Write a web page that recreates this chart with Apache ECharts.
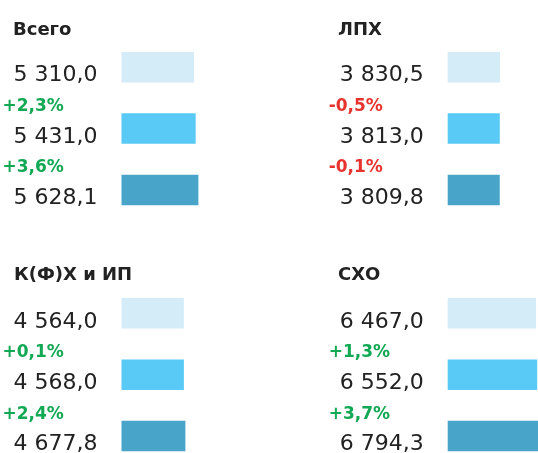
<!DOCTYPE html>
<html>
<head>
<meta charset="utf-8">
<script src="https://cdn.jsdelivr.net/npm/echarts@6/dist/echarts.min.js"></script>
<style>
  html, body { margin: 0; padding: 0; background: #fff; }
  #chart { width: 538px; height: 453px; }
</style>
</head>
<body>
<div id="chart"></div>
<script>
// Panel titles and the three yearly values in each panel
const titles = ['Всего', 'ЛПХ', 'К(Ф)Х и ИП', 'СХО'];
const years = ['2021', '2022', '2023'];
const totalValues = [5310.0, 5431.0, 5628.1];
const lphValues = [3830.5, 3813.0, 3809.8];
const kfhValues = [4564.0, 4568.0, 4677.8];
const shoValues = [6467.0, 6552.0, 6794.3];
const panelValues = [totalValues, lphValues, kfhValues, shoValues];

const barColors = ['#D3ECF8', '#58CAF5', '#48A4C8'];
const textColor = '#222222';
const upColor = '#12A854';
const downColor = '#E8322E';
const font = 'DejaVu Sans';

// Russian number style: grouping by spaces, comma as decimal mark
function fmtValue(v) {
  const parts = v.toFixed(1).split('.');
  const intPart = parts[0].replace(/\B(?=(\d{3})+(?!\d))/g, ' ');
  return intPart + ',' + parts[1];
}
function changeOf(vals, i) {
  if (i === 0) return null;
  return (vals[i] / vals[i - 1] - 1) * 100;
}
function fmtChange(p) {
  const s = Math.abs(p).toFixed(1).replace('.', ',');
  return (p >= 0 ? '+' : '-') + s + '%';
}

// Shared scale across panels: value units per pixel of bar length
const unitsPerPx = 73.2;

// Panel placement: left edge of bars, centre of first bar, grid width
const panelLeft = [121.5, 447.7, 121.5, 447.7];
const firstBarCenter = [67.2, 67.2, 313.3, 313.3];
const panelWidth = [136.6, 90.3, 136.6, 90.3];
const titleLeft = [13, 338, 14, 338];
const titleTop = [19.5, 19.5, 265, 265];
const barStep = 61.4;

const grids = [], xAxes = [], yAxes = [], series = [], titleOpts = [];

panelValues.forEach((vals, p) => {
  grids.push({
    left: panelLeft[p], top: firstBarCenter[p],
    width: panelWidth[p], height: barStep * 2,
    containLabel: false
  });
  xAxes.push({ gridIndex: p, type: 'value', min: 0, max: panelWidth[p] * unitsPerPx, show: false });
  yAxes.push({ gridIndex: p, type: 'category', data: years, inverse: true, boundaryGap: false, show: false });

  // value bars with their number to the left
  series.push({
    type: 'bar',
    xAxisIndex: p, yAxisIndex: p,
    barWidth: 30.5,
    data: vals.map((v, i) => ({ value: v, itemStyle: { color: barColors[i] } })),
    label: {
      show: true,
      position: 'insideLeft',
      offset: [-108, 8.5],
      distance: 0,
      align: 'left',
      formatter: (d) => fmtValue(d.value),
      color: textColor,
      fontFamily: font,
      fontSize: 22
    },
    silent: true,
    animation: false
  });

  // transparent overlay carrying the year-on-year change label
  series.push({
    type: 'bar',
    xAxisIndex: p, yAxisIndex: p,
    barWidth: 30.5,
    barGap: '-100%',
    data: vals.map((v, i) => {
      const c = changeOf(vals, i);
      return {
        value: v,
        itemStyle: { color: 'rgba(0,0,0,0)' },
        label: c === null ? { show: false } : {
          show: true,
          formatter: fmtChange(c),
          color: c >= 0 ? upColor : downColor
        }
      };
    }),
    label: {
      position: 'insideLeft',
      offset: [-119, -22],
      distance: 0,
      align: 'left',
      fontFamily: font,
      fontSize: 17,
      fontWeight: 'bold'
    },
    silent: true,
    animation: false
  });

  titleOpts.push({
    text: titles[p],
    left: titleLeft[p],
    top: titleTop[p],
    padding: 0,
    textStyle: { fontFamily: font, fontSize: 18, fontWeight: 'bold', color: textColor, lineHeight: 21 }
  });
});

const chart = echarts.init(document.getElementById('chart'), null, { renderer: 'canvas' });
chart.setOption({
  backgroundColor: '#ffffff',
  animation: false,
  title: titleOpts,
  grid: grids,
  xAxis: xAxes,
  yAxis: yAxes,
  series: series
});
</script>
</body>
</html>
